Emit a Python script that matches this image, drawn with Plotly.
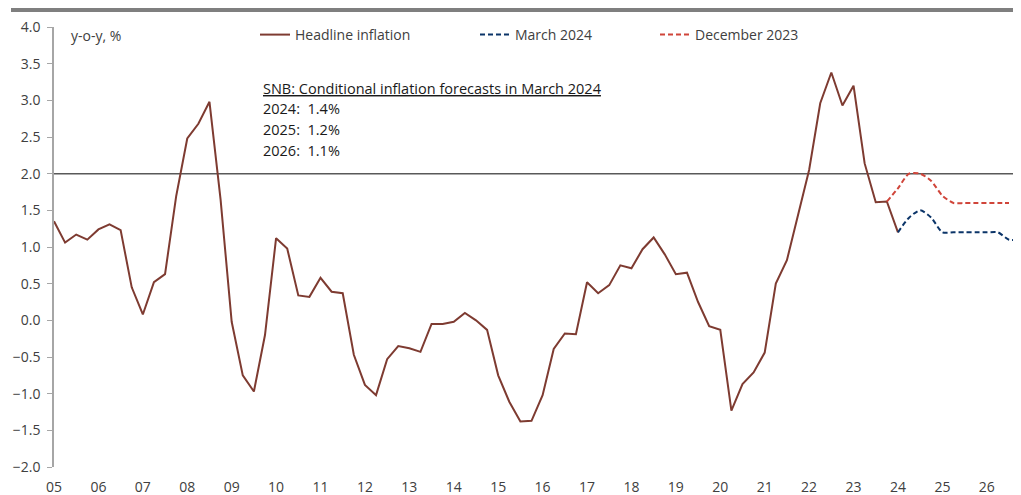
import plotly.graph_objects as go

# ---- data (quarterly, y-o-y %) ----
headline_start = 2005.0
headline = [1.35, 1.06, 1.17, 1.10, 1.24, 1.31, 1.23, 0.45,
            0.08, 0.52, 0.63, 1.69, 2.48, 2.68, 2.98, 1.65,
            -0.02, -0.75, -0.97, -0.20, 1.12, 0.98, 0.34, 0.32,
            0.58, 0.39, 0.37, -0.47, -0.88, -1.02, -0.53, -0.35,
            -0.38, -0.43, -0.05, -0.05, -0.02, 0.10, 0.00, -0.13,
            -0.75, -1.11, -1.38, -1.37, -1.02, -0.39, -0.18, -0.19,
            0.52, 0.37, 0.48, 0.75, 0.71, 0.97, 1.13, 0.90,
            0.63, 0.65, 0.25, -0.08, -0.13, -1.23, -0.87, -0.71,
            -0.44, 0.50, 0.82, 1.45, 2.05, 2.96, 3.38, 2.93,
            3.20, 2.14, 1.61, 1.62, 1.20]
march2024_start = 2024.0
march2024 = [1.20, 1.40, 1.50, 1.40, 1.20, 1.20, 1.20, 1.20, 1.20, 1.20, 1.10, 1.10]
dec2023_start = 2023.75
dec2023 = [1.62, 1.80, 2.00, 2.00, 1.90, 1.70, 1.60, 1.60, 1.60, 1.60, 1.60, 1.60]

years = list(range(2005, 2027))
year_labels = [f"{y % 100:02d}" for y in years]
y_ticks = [v / 2 for v in range(-4, 9)]

forecast_title = "SNB: Conditional inflation forecasts in March 2024"
forecast_lines = ["2024:  1.4%", "2025:  1.2%", "2026:  1.1%"]


def qx(start, n):
    return [start + 0.25 * i for i in range(n)]


# The page body has an 8px margin, so the figure starts at (8, 8) in the window.
OFF = 8
W, H = 1021 - OFF, 495 - OFF
ML = 54 - OFF
MT = 27 - OFF
MB = H - (467 - OFF)
MR = 0
PW, PH = W - ML - MR, H - MT - MB
XR = [2005.0, 2026.77]
FONT = "Open Sans"
FS = 14
GREY_TXT = "#404040"
AXIS_GREY = "#A6A6A6"


def px_x(p):  # page pixel -> paper fraction
    return (p - OFF - ML) / PW


def px_y(p):
    return 1 - (p - OFF - MT) / PH


fig = go.Figure()
fig.add_trace(go.Scatter(x=qx(headline_start, len(headline)), y=headline, mode="lines",
                         name="Headline inflation", line=dict(color="#7E3B31", width=2),
                         legend="legend"))
fig.add_trace(go.Scatter(x=qx(march2024_start, len(march2024)), y=march2024, mode="lines",
                         name="March 2024",
                         line=dict(color="#0B3468", width=2, dash="5px,3px", shape="spline", smoothing=0.7),
                         legend="legend2"))
fig.add_trace(go.Scatter(x=qx(dec2023_start, len(dec2023)), y=dec2023, mode="lines",
                         name="December 2023",
                         line=dict(color="#D0453A", width=2, dash="5px,3px", shape="spline", smoothing=0.7),
                         legend="legend3"))

legend_common = dict(orientation="h", yanchor="middle", xanchor="left",
                     bgcolor="rgba(0,0,0,0)", borderwidth=0,
                     font=dict(family=FONT, size=FS, color=GREY_TXT))

fig.update_layout(
    width=W, height=H,
    margin=dict(l=ML, r=MR, t=MT, b=MB, autoexpand=False),
    plot_bgcolor="white", paper_bgcolor="white",
    font=dict(family=FONT, size=FS, color=GREY_TXT),
    showlegend=True,
    legend=dict(x=px_x(255), y=px_y(35), **legend_common),
    legend2=dict(x=px_x(475), y=px_y(35), **legend_common),
    legend3=dict(x=px_x(655), y=px_y(35), **legend_common),
    xaxis=dict(range=XR, tickvals=years, ticktext=year_labels, showgrid=False,
               zeroline=False, showline=False, ticks="outside", ticklen=7,
               tickcolor="rgba(0,0,0,0)", tickfont=dict(size=FS, color=GREY_TXT),
               automargin=False),
    xaxis2=dict(range=XR, overlaying="x", anchor="free", position=1 / 3,
                tickvals=years, showticklabels=False, showgrid=False, zeroline=False,
                showline=True, linecolor=AXIS_GREY, linewidth=1.5,
                ticks="outside", ticklen=5, tickcolor=AXIS_GREY, tickwidth=1.2,
                automargin=False),
    yaxis=dict(range=[-2, 4], tickvals=y_ticks, tickformat=".1f", showgrid=False,
               zeroline=False, showline=True, linecolor=AXIS_GREY, linewidth=1.5,
               ticks="outside", ticklen=5, tickcolor=AXIS_GREY, tickwidth=1.2,
               ticklabelstandoff=4,
               tickfont=dict(size=FS, color=GREY_TXT), automargin=False),
)

# 2% reference line
fig.add_shape(type="line", xref="paper", yref="y", x0=0, x1=1, y0=2, y1=2,
              line=dict(color="#595959", width=1.5), layer="below")
# top grey rule
fig.add_shape(type="line", xref="paper", yref="paper", x0=px_x(11), x1=1.0,
              y0=px_y(10), y1=px_y(10), line=dict(color="#7F7F7F", width=4))

fig.add_annotation(text="y-o-y, %", xref="paper", yref="paper", x=px_x(69), y=px_y(35),
                   xanchor="left", yanchor="middle", showarrow=False,
                   font=dict(family=FONT, size=FS, color=GREY_TXT))
fig.add_annotation(text=f"<u>{forecast_title}</u>", xref="paper", yref="paper",
                   x=px_x(261), y=px_y(89), xanchor="left", yanchor="middle", showarrow=False,
                   font=dict(family=FONT, size=14.5, color="#1A1A1A"))
for k, line in enumerate(forecast_lines):
    fig.add_annotation(text=line, xref="paper", yref="paper",
                       x=px_x(261), y=px_y(108.5 + 21 * k), xanchor="left", yanchor="middle",
                       showarrow=False, font=dict(family=FONT, size=14.5, color="#1A1A1A"))

fig.write_html("out.html")
